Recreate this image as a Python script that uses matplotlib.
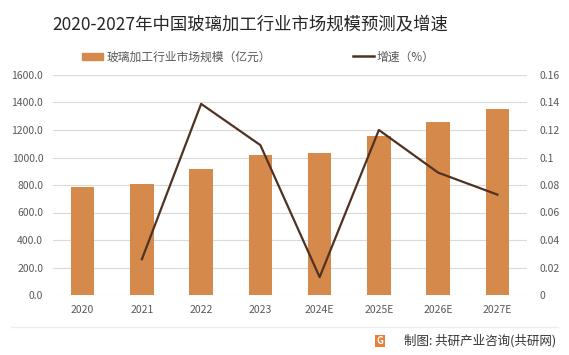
import matplotlib
matplotlib.use("Agg")
import matplotlib.pyplot as plt
from matplotlib.patches import Patch
from matplotlib.lines import Line2D

plt.rcParams['font.family'] = ['Noto Sans CJK SC', 'DejaVu Sans']

years = ["2020", "2021", "2022", "2023", "2024E", "2025E", "2026E", "2027E"]
market_size = [788, 807, 916, 1018, 1035, 1159, 1260, 1350]
growth_years = years[1:]
growth = [0.026, 0.139, 0.109, 0.013, 0.120, 0.089, 0.073]

BAR_C = "#D58A4B"
LINE_C = "#4F3223"
TXT_C = "#595959"

fig = plt.figure(figsize=(5.69, 3.55), dpi=100)
ax = fig.add_axes([53/569, 1 - 295/355, 474/569, 220/355])
x = list(range(len(years)))
ax.bar(x, market_size, width=0.4, color=BAR_C, zorder=2)
ax.set_ylim(0, 1600)
ax.set_yticks(range(0, 1601, 200))
ax.set_yticklabels([f"{v:.1f}" for v in range(0, 1601, 200)])
ax.set_xlim(-0.5, len(years) - 0.5)
ax.set_xticks(x)
ax.set_xticklabels(years)
ax.grid(axis="y", color="#D9D9D9", linewidth=0.8, zorder=0)
for s in ax.spines.values():
    s.set_visible(False)
ax.tick_params(length=0, labelsize=7.5, colors=TXT_C, pad=7)

ax2 = ax.twinx()
ax2.plot(x[1:], growth, color=LINE_C, linewidth=1.6, zorder=3)
ax2.set_ylim(0, 0.16)
ticks = [0, 0.02, 0.04, 0.06, 0.08, 0.1, 0.12, 0.14, 0.16]
ax2.set_yticks(ticks)
ax2.set_yticklabels(["0", "0.02", "0.04", "0.06", "0.08", "0.1", "0.12", "0.14", "0.16"])
for s in ax2.spines.values():
    s.set_visible(False)
ax2.tick_params(length=0, labelsize=7.5, colors=TXT_C, pad=9)

fig.text(250/569, 1 - 24/355, "2020-2027年中国玻璃加工行业市场规模预测及增速",
         ha="center", va="center", fontsize=12.5, color="#262626")

fig.legend([Patch(color=BAR_C)], ["玻璃加工行业市场规模（亿元）"],
           loc="center left", bbox_to_anchor=(71/569, 1 - 57/355), frameon=False,
           fontsize=8.5, handlelength=1.8, handleheight=0.5, handletextpad=0.3,
           labelcolor=TXT_C)
fig.legend([Line2D([0], [0], color=LINE_C, lw=1.8)], ["增速（%）"],
           loc="center left", bbox_to_anchor=(342/569, 1 - 57/355), frameon=False,
           fontsize=8.5, handlelength=1.8, handletextpad=0.2, labelcolor=TXT_C)

fig.add_artist(Line2D([0.02, 0.98], [1 - 327/355] * 2, color="#EDEDED", lw=1))
fig.text(556/569, 1 - 341/355, "制图: 共研产业咨询(共研网)", ha="right", va="center",
         fontsize=9, color="#333333")
fig.text(380/569, 1 - 341/355, "G", ha="center", va="center", fontsize=7,
         fontweight="bold", color="white",
         bbox=dict(boxstyle="square,pad=0.15", fc="#E8803A", ec="none"))

fig.savefig("out.png", dpi=100)
